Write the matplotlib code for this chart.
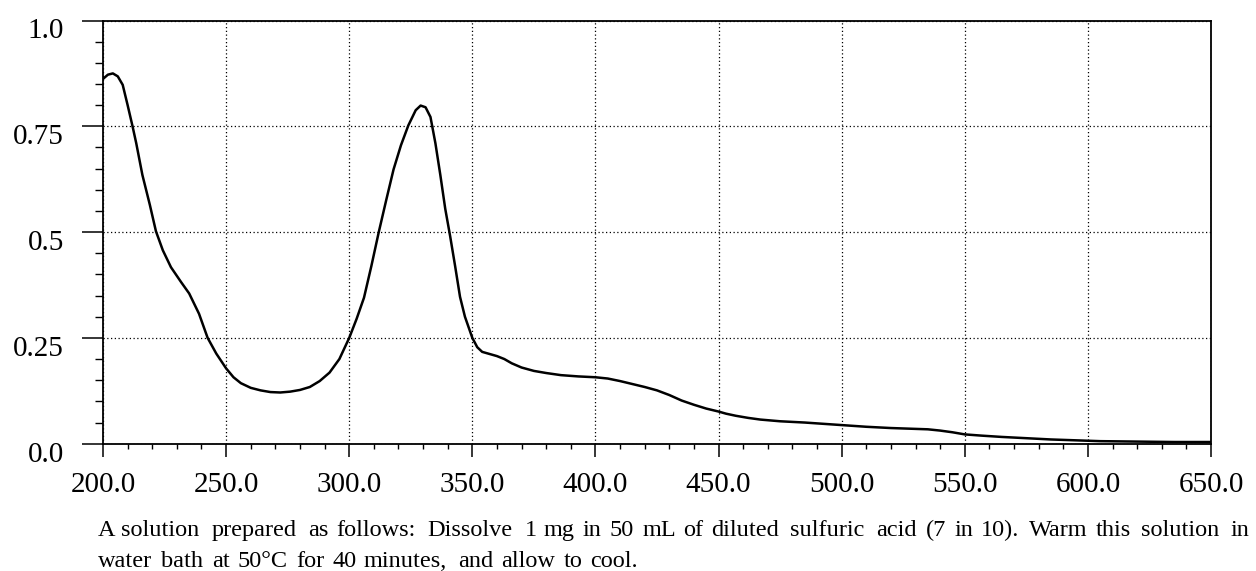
import matplotlib
matplotlib.use("Agg")
import matplotlib.pyplot as plt
import matplotlib.transforms as mtransforms
from matplotlib.ticker import MultipleLocator, FixedLocator, FixedFormatter

wavelength = [200, 202, 204, 206, 208, 210, 212, 213.5, 216, 219, 221.5, 224.3, 227.6,
              231.7, 235, 239, 242.5, 246, 250, 253, 256, 260, 264, 268, 272, 276,
              280, 284, 288, 292, 296, 300, 303, 306, 309, 312, 315, 318, 321, 324,
              327, 329, 331, 333, 335, 337, 339, 341, 343, 345, 347, 350, 352, 354,
              357, 360, 363, 366, 370, 375, 380, 386, 393, 400, 405, 410, 415, 420,
              425, 430, 435, 440, 445, 450, 453, 457, 462, 467, 475, 485, 500, 510,
              520, 530, 535, 540, 545, 550, 557, 565, 575, 585, 595, 605, 620, 635,
              650]
absorbance = [0.862, 0.872, 0.875, 0.868, 0.848, 0.800, 0.750, 0.710, 0.635, 0.565,
              0.502, 0.457, 0.417, 0.382, 0.355, 0.307, 0.250, 0.213, 0.178, 0.157,
              0.143, 0.132, 0.126, 0.122, 0.121, 0.123, 0.127, 0.134, 0.148, 0.168,
              0.200, 0.250, 0.295, 0.345, 0.420, 0.500, 0.575, 0.648, 0.705, 0.752,
              0.788, 0.799, 0.795, 0.772, 0.710, 0.635, 0.555, 0.490, 0.420, 0.347,
              0.300, 0.250, 0.228, 0.217, 0.212, 0.207, 0.200, 0.190, 0.180, 0.172,
              0.167, 0.162, 0.159, 0.157, 0.154, 0.148, 0.141, 0.134, 0.126, 0.115,
              0.102, 0.092, 0.083, 0.076, 0.071, 0.066, 0.061, 0.057, 0.053, 0.050,
              0.044, 0.040, 0.037, 0.035, 0.034, 0.031, 0.027, 0.022, 0.019, 0.016,
              0.013, 0.010, 0.008, 0.006, 0.005, 0.004, 0.004]

x_ticks = [200, 250, 300, 350, 400, 450, 500, 550, 600, 650]
x_tick_labels = ["200.0", "250.0", "300.0", "350.0", "400.0", "450.0", "500.0",
                 "550.0", "600.0", "650.0"]
y_ticks = [0.0, 0.25, 0.5, 0.75, 1.0]
y_tick_labels = ["0.0", "0.25", "0.5", "0.75", "1.0"]

caption_lines = [
    "A solution prepared as follows: Dissolve 1 mg in 50 mL of diluted sulfuric acid (7 in 10). Warm this solution in",
    "water bath at 50°C for 40 minutes, and allow to cool.",
]

W, H = 1256, 571
fig = plt.figure(figsize=(W / 100, H / 100), dpi=100)
ax = fig.add_axes([103 / W, 1 - 443.7 / H, (1211 - 103) / W, (443.7 - 20.5) / H])

ax.plot(wavelength, absorbance, color="black", lw=1.8, solid_joinstyle="round",
        solid_capstyle="round")

ax.set_xlim(200, 650)
ax.set_ylim(0, 1.0)
ax.xaxis.set_major_locator(FixedLocator(x_ticks))
ax.xaxis.set_major_formatter(FixedFormatter(x_tick_labels))
ax.xaxis.set_minor_locator(MultipleLocator(10))
ax.yaxis.set_major_locator(FixedLocator(y_ticks))
ax.yaxis.set_major_formatter(FixedFormatter(y_tick_labels))
ax.yaxis.set_minor_locator(MultipleLocator(0.05))

ax.grid(True, which="major", color="black", linestyle=(0, (1, 2)), lw=0.9)

for s in ax.spines.values():
    s.set_color("black")
    s.set_linewidth(1.3)

serif = ["Liberation Serif", "DejaVu Serif"]
ax.tick_params(axis="x", which="major", direction="out", length=9.5, width=1.1, pad=11)
ax.tick_params(axis="x", which="minor", direction="out", length=3.5, width=1.0)
ax.tick_params(axis="y", which="major", direction="out", length=15, width=1.1, pad=13)
ax.tick_params(axis="y", which="minor", direction="out", length=6, width=1.0)

for lab in ax.get_xticklabels():
    lab.set_fontfamily(serif)
    lab.set_fontsize(21)
offset = mtransforms.ScaledTranslation(0, -8 / 100, fig.dpi_scale_trans)
for lab in ax.get_yticklabels():
    lab.set_fontfamily(serif)
    lab.set_fontsize(21)
    lab.set_transform(lab.get_transform() + offset)

# Caption: the reference is set with letter tracking; words are placed so that
# the extra space is spread per character, reaching the original line extents.
renderer = fig.canvas.get_renderer()
cap_size = 17.5
x_left = 98
line_specs = [(caption_lines[0], 536, 1250), (caption_lines[1], 567, 640)]


def text_width(s):
    t = fig.text(0, 0, s, fontfamily=serif, fontsize=cap_size)
    w = t.get_window_extent(renderer).width
    t.remove()
    return w


xw = text_width("x")
for line, baseline, x_right in line_specs:
    words = line.split(" ")
    total = text_width(line)
    k = (x_right - x_left - total) / (len(line) - 1)
    prefix = ""
    for wd in words:
        start = (text_width(prefix + "x") - xw) if prefix else 0.0
        start += k * len(prefix)
        fig.text((x_left + start) / W, 1 - baseline / H, wd,
                 fontfamily=serif, fontsize=cap_size, va="baseline", ha="left")
        prefix = prefix + wd + " "

fig.savefig("out.png", dpi=100)
